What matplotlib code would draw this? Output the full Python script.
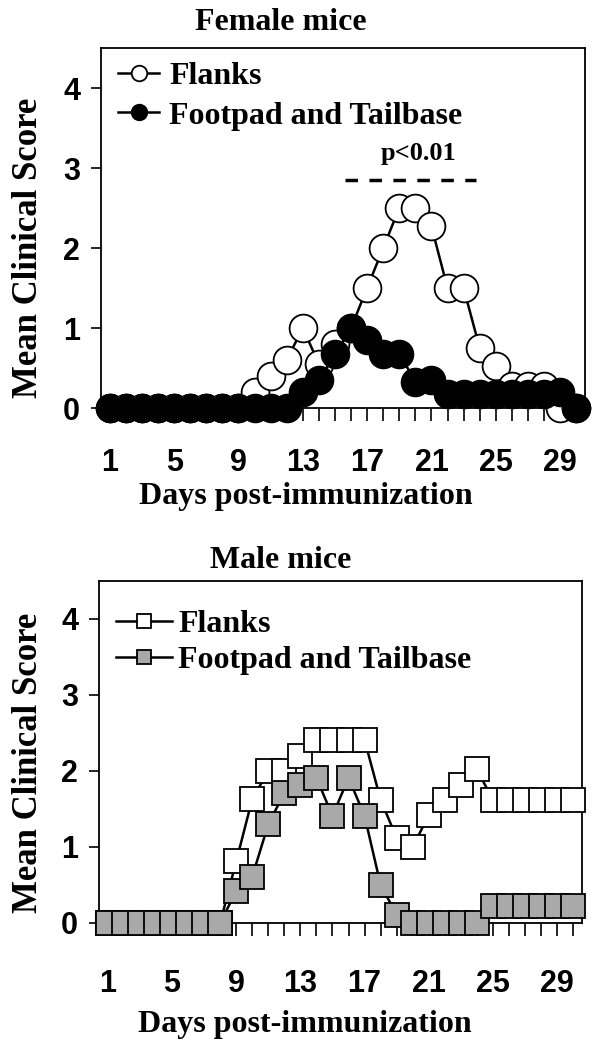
import matplotlib
matplotlib.use('Agg')
import matplotlib.pyplot as plt

# 免疫后天数
days = list(range(1, 31))
label_days = [1, 5, 9, 13, 17, 21, 25, 29]
y_ticks = [0, 1, 2, 3, 4]

# 雌鼠 (圆点)
female_flanks = [0, 0, 0, 0, 0, 0, 0, 0, 0,
                 0.2, 0.4, 0.6, 1.0, 0.55, 0.8, 1.0, 1.5, 2.0, 2.5, 2.5,
                 2.27, 1.5, 1.5, 0.75, 0.52, 0.27, 0.27, 0.27, 0, 0]
female_footpad = [0, 0, 0, 0, 0, 0, 0, 0, 0, 0, 0, 0,
                  0.2, 0.35, 0.67, 1.0, 0.85, 0.68, 0.68, 0.33, 0.35,
                  0.17, 0.17, 0.17, 0.17, 0.17, 0.17, 0.17, 0.2, 0]

# 雄鼠 (方块)
male_flanks = [0, 0, 0, 0, 0, 0, 0, 0,
               0.81, 1.63, 2.0, 2.0, 2.2, 2.41, 2.41, 2.41, 2.41, 1.62, 1.12,
               1.0, 1.42, 1.62, 1.82, 2.02, 1.62, 1.62, 1.62, 1.62, 1.62, 1.62]
male_footpad = [0, 0, 0, 0, 0, 0, 0, 0,
                0.42, 0.61, 1.3, 1.71, 1.82, 1.91, 1.41, 1.91, 1.41, 0.5, 0.11,
                0, 0, 0, 0, 0, 0.22, 0.22, 0.22, 0.22, 0.22, 0.22]

# 显著性标记
sig_text = 'p<0.01'
sig_x = (15.6, 23.8)
sig_y = 2.85

SERIF = 'Liberation Serif'
SANS = ['Liberation Sans Narrow', 'Liberation Sans']
GRAY = '#a9a9a9'

fig = plt.figure(figsize=(6.03, 10.5), dpi=100)
ax1 = fig.add_axes([101 / 603, 1 - 408 / 1050, 484 / 603, 360 / 1050])
ax2 = fig.add_axes([99 / 603, 1 - 923 / 1050, 483 / 603, 342 / 1050])


def style_axis(ax, title, title_xy, xlab_xy, ylab_xy, xpad):
    ax.set_xlim(0.45, 30.55)
    ax.set_ylim(0, 4.5)
    ax.set_xticks(days)
    ax.set_xticklabels([str(d) if d in label_days else '' for d in days])
    ax.set_yticks(y_ticks)
    ax.tick_params(axis='x', direction='out', length=9, width=1.2, pad=xpad)
    ax.tick_params(axis='y', direction='out', length=7, width=1.2, pad=8)
    for lab in ax.get_xticklabels() + ax.get_yticklabels():
        lab.set_fontfamily(SANS)
        lab.set_fontweight('bold')
        lab.set_fontsize(22)
    for sp in ax.spines.values():
        sp.set_linewidth(1.3)
    ax.text(title_xy[0], title_xy[1], title, transform=ax.transAxes,
            ha='center', va='center', fontfamily=SERIF, fontweight='bold', fontsize=23)
    ax.set_xlabel('Days post-immunization', fontfamily=SERIF, fontweight='bold',
                  fontsize=23)
    ax.xaxis.set_label_coords(*xlab_xy)
    ax.set_ylabel('Mean Clinical Score', fontfamily=SERIF, fontweight='bold',
                  fontsize=25)
    ax.yaxis.set_label_coords(*ylab_xy)


# 雌鼠
ax1.plot(days, female_flanks, '-o', color='black', lw=1.8, ms=20,
         mfc='white', mec='black', mew=1.3, clip_on=False, zorder=3, label='Flanks')
ax1.plot(days, female_footpad, '-o', color='black', lw=1.8, ms=20,
         mfc='black', mec='black', mew=1.3, clip_on=False, zorder=4,
         label='Footpad and Tailbase')
ax1.plot(sig_x, [sig_y, sig_y], color='black', lw=2.5, ls=(0, (3.6, 3.3)))
ax1.text(sum(sig_x) / 2 + 0.5, sig_y + 0.33, sig_text, ha='center', va='center',
         fontfamily=SERIF, fontweight='bold', fontsize=19)
style_axis(ax1, 'Female mice', (0.372, 1.07), (0.424, -0.205), (-0.115, 0.444), 20)
ax1.legend(loc='upper left', bbox_to_anchor=(0.035, 0.962), frameon=False,
           borderaxespad=0, borderpad=0, handlelength=1.3, handletextpad=0.3,
           labelspacing=0.32, markerscale=0.56,
           prop={'family': SERIF, 'weight': 'bold', 'size': 23})

# 雄鼠
ax2.plot(days, male_flanks, '-s', color='black', lw=1.8, ms=17.5,
         mfc='white', mec='black', mew=1.3, clip_on=False, zorder=3, label='Flanks')
ax2.plot(days, male_footpad, '-s', color='black', lw=1.8, ms=17.5,
         mfc=GRAY, mec='black', mew=1.3, clip_on=False, zorder=4,
         label='Footpad and Tailbase')
style_axis(ax2, 'Male mice', (0.377, 1.061), (0.427, -0.254), (-0.112, 0.468), 24)
ax2.legend(loc='upper left', bbox_to_anchor=(0.035, 0.915), frameon=False,
           borderaxespad=0, borderpad=0, handlelength=1.75, handletextpad=0.2,
           labelspacing=0.2, markerscale=0.55,
           prop={'family': SERIF, 'weight': 'bold', 'size': 23})

fig.savefig('out.png', dpi=100)
plt.close(fig)
